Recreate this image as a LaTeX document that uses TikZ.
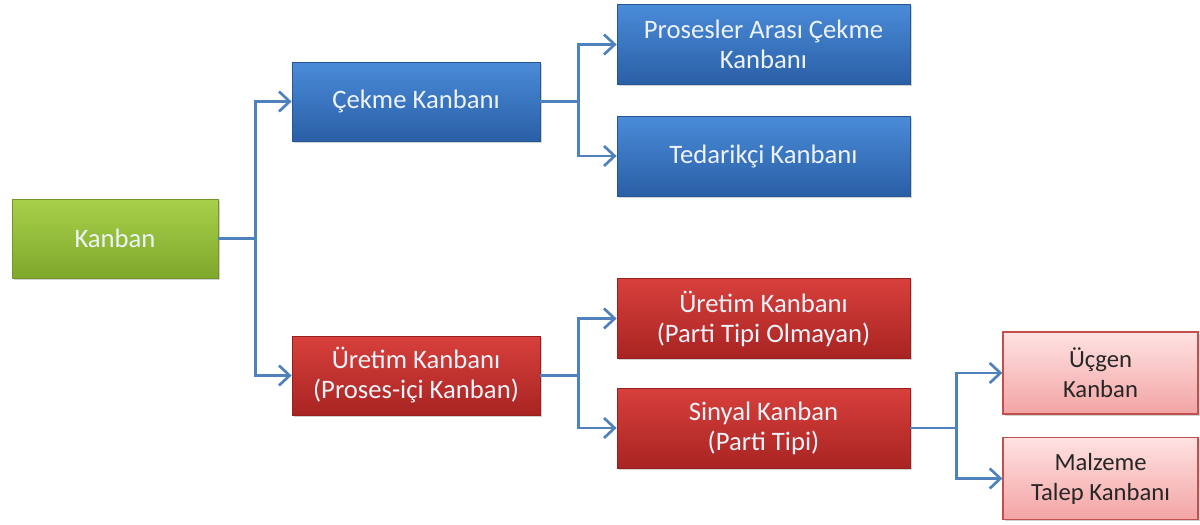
\documentclass[tikz,border=0pt]{standalone}
\usepackage{fontspec}
\setmainfont{Carlito}
\usetikzlibrary{arrows.meta,shadows}
\definecolor{linkblue}{HTML}{4F81BD}
\definecolor{bluetop}{HTML}{4A8BD8}
\definecolor{bluebot}{HTML}{2A5FA6}
\definecolor{greentop}{HTML}{A8D04A}
\definecolor{greenbot}{HTML}{7FA82C}
\definecolor{redtop}{HTML}{D8403C}
\definecolor{redbot}{HTML}{A82422}
\definecolor{pinktop}{HTML}{FFE2E2}
\definecolor{pinkbot}{HTML}{F3A4A4}
\definecolor{pinkedge}{HTML}{C0504D}
\definecolor{paletext}{HTML}{EEF3FA}
\begin{document}
\begin{tikzpicture}[x=0.75pt,y=-0.75pt,
  box/.style={rectangle,align=center,inner sep=2pt,
    font=\fontsize{20}{22.5}\selectfont,text=paletext,
    drop shadow={shadow xshift=1.2pt,shadow yshift=-1.2pt,opacity=0.35}},
  greenbox/.style={box,minimum width=206*0.75pt,minimum height=79*0.75pt,
    top color=greentop,bottom color=greenbot,draw=greenbot!90!black,line width=0.6pt},
  bluebox/.style={box,top color=bluetop,bottom color=bluebot,draw=bluebot!90!black,line width=0.6pt},
  redbox/.style={box,top color=redtop,bottom color=redbot,draw=redbot!90!black,line width=0.6pt},
  pinkbox/.style={box,text=black!85,font=\fontsize{18.5}{22.5}\selectfont,
    minimum width=195*0.75pt,minimum height=82*0.75pt,
    top color=pinktop,bottom color=pinkbot,draw=pinkedge,line width=1pt},
  midbox/.style={minimum width=248*0.75pt,minimum height=79*0.75pt},
  widebox/.style={minimum width=293*0.75pt,minimum height=80*0.75pt},
  link/.style={draw=linkblue,line width=2.2pt},
  arrowlink/.style={link,-{Straight Barb[length=8pt,width=15pt,line width=2pt]}}
]
\useasboundingbox (0,0) rectangle (1200,525);
\fill[white] (0,0) rectangle (1200,525);

% level 0
\node[greenbox] (kanban) at (115,238.5) {Kanban};

% level 1
\node[bluebox,midbox] (cekme) at (416,101.5) {Çekme Kanbanı};
\node[redbox,midbox] (uretim) at (416,375.5) {Üretim Kanbanı\\(Proses-içi Kanban)};

% level 2
\node[bluebox,widebox] (proses) at (763.5,44.5) {Prosesler Arası Çekme\\Kanbanı};
\node[bluebox,widebox] (tedarik) at (763.5,156) {Tedarikçi Kanbanı};
\node[redbox,widebox] (partisiz) at (763.5,318.5) {Üretim Kanbanı\\(Parti Tipi Olmayan)};
\node[redbox,widebox] (sinyal) at (763.5,428) {Sinyal Kanban\\(Parti Tipi)};

% level 3
\node[pinkbox] (ucgen) at (1100.5,373) {Üçgen\\Kanban};
\node[pinkbox] (malzeme) at (1100.5,478.5) {Malzeme\\Talep Kanbanı};

% connectors
\draw[arrowlink] (kanban.east) -- ++(37,0) |- (cekme.west);
\draw[arrowlink] (kanban.east) -- ++(37,0) |- (uretim.west);
\draw[arrowlink] (cekme.east) -- ++(38,0) |- (proses.west);
\draw[arrowlink] (cekme.east) -- ++(38,0) |- (tedarik.west);
\draw[arrowlink] (uretim.east) -- ++(38,0) |- (partisiz.west);
\draw[arrowlink] (uretim.east) -- ++(38,0) |- (sinyal.west);
\draw[arrowlink] (sinyal.east) -- ++(46,0) |- (ucgen.west);
\draw[arrowlink] (sinyal.east) -- ++(46,0) |- (malzeme.west);
\end{tikzpicture}
\end{document}
